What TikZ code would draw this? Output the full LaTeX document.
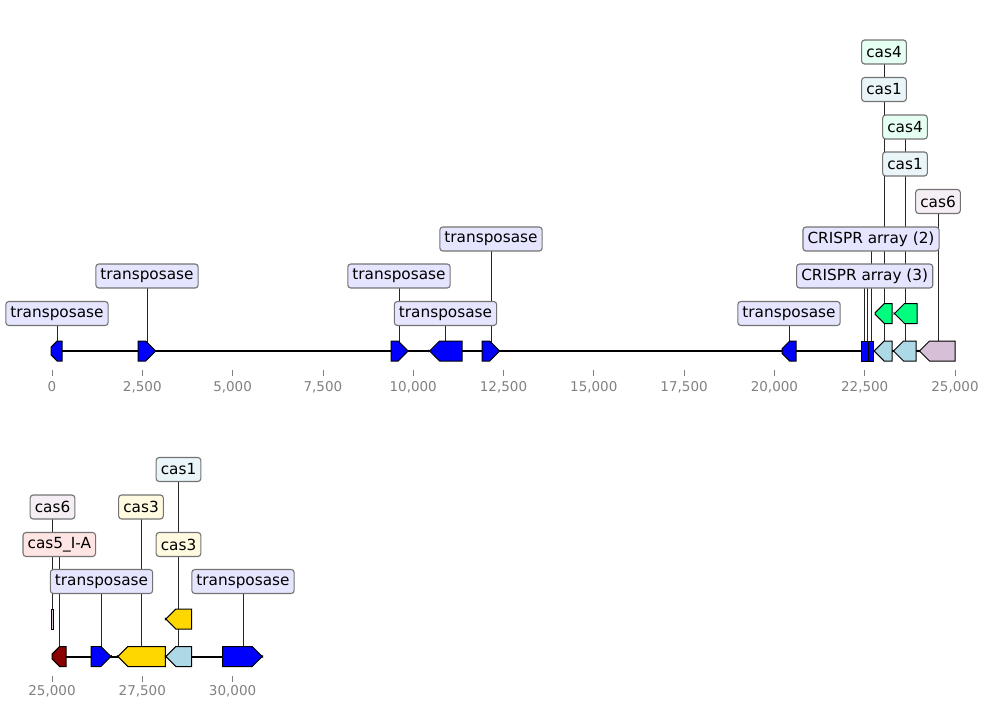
\documentclass[tikz,border=0pt]{standalone}
\usepackage{fontspec}
\setmainfont{DejaVu Sans}
\usetikzlibrary{positioning,backgrounds}
\definecolor{tpblue}{RGB}{0,0,255}
\definecolor{caslight}{RGB}{173,216,230}
\definecolor{casgreen}{RGB}{0,255,127}
\definecolor{casthistle}{RGB}{216,191,216}
\definecolor{casgold}{RGB}{255,215,0}
\definecolor{casred}{RGB}{139,0,0}
\definecolor{casredlight}{RGB}{255,228,228}
\definecolor{axisgrey}{RGB}{128,128,128}
\tikzset{
  every picture/.style={x=1pt, y=-1pt, line width=0.8pt},
  lab/.style={draw=black!55, line width=1.1pt, rounded corners=3pt, inner xsep=4.6pt, inner ysep=0pt,
    minimum height=24pt, font=\fontsize{15.3}{18}\selectfont, text=black},
  tplab/.style={lab, fill=tpblue!10!white},
  c1lab/.style={lab, fill=caslight!25!white},
  c4lab/.style={lab, fill=casgreen!10!white},
  c6lab/.style={lab, fill=casthistle!25!white},
  c3lab/.style={lab, fill=casgold!12!white},
  c5lab/.style={lab, fill=casredlight},
  stem/.style={line width=0.7pt, color=black!85},
  gene/.style={draw=black, line width=1pt, line join=miter},
  seqline/.style={line width=2pt, color=black},
  tick/.style={line width=0.8pt, color=axisgrey},
  ticklab/.style={font=\fontsize{13.5}{16}\selectfont, text=axisgrey, inner sep=0pt},
}
% gene arrows: start, end, centre y, fill
\newcommand{\generight}[4]{%
  \pgfmathsetmacro\hl{min(10.5,0.55*(#2-#1))}
  \draw[gene, fill=#4] (#1,{#3-10}) -- ({#2-\hl},{#3-10}) -- (#2,{#3-10+\hl})
    -- (#2,{#3+10-\hl}) -- ({#2-\hl},{#3+10}) -- (#1,{#3+10}) -- cycle;
}
\newcommand{\geneleft}[4]{%
  \pgfmathsetmacro\hl{min(10.5,0.55*(#2-#1))}
  \draw[gene, fill=#4] (#2,{#3-10}) -- ({#1+\hl},{#3-10}) -- (#1,{#3-10+\hl})
    -- (#1,{#3+10-\hl}) -- ({#1+\hl},{#3+10}) -- (#2,{#3+10}) -- cycle;
}
\newcommand{\generect}[4]{%
  \draw[gene, fill=#4] (#1,{#3-10}) rectangle (#2,{#3+10});
}

\begin{document}
\begin{tikzpicture}
  \useasboundingbox (0,0) rectangle (989,709);

  % ---- first track: 0 to 25,000
  \coordinate (seqA0) at (52,351);
  \coordinate (seqA1) at (955,351);
  \draw[seqline] (seqA0) -- (seqA1);

  \foreach \t [count=\i from 0] in {0,{2,500},{5,000},{7,500},{10,000},{12,500},{15,000},{17,500},{20,000},{22,500},{25,000}} {
    \draw[tick] ({52+90.3*\i},370) -- ++(0,6);
    \node[ticklab] (tickA\i) at ({52+90.3*\i},387) {\t};
  }

  % feature anchors (centre of each gene)
  \coordinate (gA1) at (57,351);
  \coordinate (gA2) at (147,351);
  \coordinate (gA3) at (399,351);
  \coordinate (gA4) at (445.5,351);
  \coordinate (gA5) at (491,351);
  \coordinate (gA6) at (789,351);
  \coordinate (crA) at (864.7,351);
  \coordinate (crB) at (867.3,351);
  \coordinate (crC) at (871,351);
  \coordinate (c1A) at (884,351);
  \coordinate (c4A) at (884,313.5);
  \coordinate (c1B) at (905,351);
  \coordinate (c4B) at (905,313.5);
  \coordinate (c6A) at (938,351);

  \node[tplab] (tpA1) at (57,313.5) {transposase};
  \node[tplab] (tpA2) at (147,276) {transposase};
  \node[tplab] (tpA3) at (399,276) {transposase};
  \node[tplab] (tpA4) at (445.5,313.5) {transposase};
  \node[tplab] (tpA5) at (491,239) {transposase};
  \node[tplab] (tpA6) at (789,313.5) {transposase};
  \node[tplab] (crispr3) at (864.7,276) {CRISPR array (3)};
  \node[tplab] (crispr2) at (871,239) {CRISPR array (2)};
  \node[c6lab] (cas6A) at (938,201.5) {cas6};
  \node[c1lab] (cas1B) at (905,164) {cas1};
  \node[c4lab] (cas4B) at (905,127) {cas4};
  \node[c1lab] (cas1A) at (884,89.5) {cas1};
  \node[c4lab] (cas4A) at (884,52) {cas4};

  \begin{scope}[on background layer]
    \foreach \g/\l in {gA1/tpA1,gA2/tpA2,gA3/tpA3,gA4/tpA4,gA5/tpA5,gA6/tpA6,
                       crA/crispr3,crC/crispr2,c1A/cas1A,c4A/cas4A,c1B/cas1B,c4B/cas4B,c6A/cas6A}
      \draw[stem] (\g) -- (\l.center);
    \draw[stem] (crB) -- (crB |- crispr3.center);
  \end{scope}

  \geneleft{51}{62}{351}{tpblue}
  \generight{138}{155}{351}{tpblue}
  \generight{391}{407}{351}{tpblue}
  \geneleft{429}{462}{351}{tpblue}
  \generight{482}{499}{351}{tpblue}
  \geneleft{782}{796}{351}{tpblue}
  \generect{861}{868.3}{351}{tpblue}
  \generect{868.7}{873.3}{351}{tpblue}
  \geneleft{874.5}{892}{351}{caslight}
  \geneleft{893}{916}{351}{caslight}
  \geneleft{919}{955}{351}{casthistle}
  \geneleft{875}{892}{313.5}{casgreen}
  \geneleft{894}{917}{313.5}{casgreen}

  % ---- second track: 25,000 onwards
  \coordinate (seqB0) at (52,656.5);
  \coordinate (seqB1) at (262,656.5);
  \draw[seqline] (seqB0) -- (seqB1);

  \foreach \t [count=\i from 0] in {{25,000},{27,500},{30,000}} {
    \draw[tick] ({52+90.3*\i},676) -- ++(0,6);
    \node[ticklab] (tickB\i) at ({52+90.3*\i},691.5) {\t};
  }

  \coordinate (c5C) at (59.3,656.5);
  \coordinate (c6C) at (52.5,619);
  \coordinate (tpC1) at (101.5,656.5);
  \coordinate (c3C) at (141,656.5);
  \coordinate (c3D) at (178.5,619);
  \coordinate (c1C) at (178.5,656.5);
  \coordinate (tpC2) at (243,656.5);

  \node[tplab] (tpB1) at (101.5,581.5) {transposase};
  \node[tplab] (tpB2) at (243,581.5) {transposase};
  \node[c5lab] (cas5B) at (59.3,544.5) {cas5\_I-A};
  \node[c3lab] (cas3C) at (178.5,544.5) {cas3};
  \node[c6lab] (cas6B) at (52.5,507) {cas6};
  \node[c3lab] (cas3B) at (141,507) {cas3};
  \node[c1lab] (cas1C) at (178.5,469.5) {cas1};

  \begin{scope}[on background layer]
    \foreach \g/\l in {c5C/cas5B,c6C/cas6B,tpC1/tpB1,c3C/cas3B,c3D/cas3C,c1C/cas1C,tpC2/tpB2}
      \draw[stem] (\g) -- (\l.center);
  \end{scope}

  \geneleft{52}{66}{656.5}{casred}
  \generight{91}{111.3}{656.5}{tpblue}
  \geneleft{117.3}{165.3}{656.5}{casgold}
  \geneleft{165.3}{191.5}{656.5}{caslight}
  \generight{222.7}{262.7}{656.5}{tpblue}
  \generect{51.7}{53.5}{619}{casthistle}
  \geneleft{165.3}{191.5}{619}{casgold}
\end{tikzpicture}
\end{document}
